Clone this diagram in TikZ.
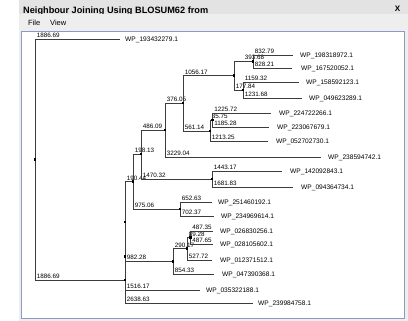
\documentclass[tikz,border=0pt]{standalone}
\usepackage{fontspec}
\setmainfont{Liberation Sans}
\definecolor{janela}{HTML}{EEEEEE}
\definecolor{barra}{HTML}{E3E3E3}
\definecolor{moldura}{HTML}{8A9AC2}
\definecolor{traco}{HTML}{3C3C3C}
\begin{document}
\begin{tikzpicture}[x=1pt, y=-1pt,
  ramo/.style={draw=traco, line width=0.6pt},
  no/.style={fill=black, inner sep=0pt, minimum size=2.6pt},
  compr/.style={anchor=south west, font=\fontsize{6.3}{7}\selectfont, inner sep=0.5pt, xshift=1pt, yshift=0.6pt},
  folha/.style={anchor=west, font=\fontsize{6.6}{7}\selectfont, inner sep=0pt, yshift=-0.8pt}]
  \useasboundingbox (0,0) rectangle (408,321);
  % janela
  \fill[janela] (19,0) rectangle (408,321);
  \fill[barra] (19,0) rectangle (408,14);
  \node[anchor=base west, font=\bfseries\fontsize{9.2}{10}\selectfont, inner sep=0pt] (titulo) at (23,13.4) {Neighbour Joining Using BLOSUM62 from};
  \fill[janela] (19,13.6) rectangle (408,31);
  \node[font=\bfseries\fontsize{8}{9}\selectfont, inner sep=0pt] (fechar) at (397.5,8.5) {X};
  \node[anchor=west, font=\fontsize{7.5}{8}\selectfont, inner sep=0pt] (arquivo) at (28,22.7) {File};
  \node[anchor=west, font=\fontsize{7.5}{8}\selectfont, inner sep=0pt] (ver) at (50,22.7) {View};
  \draw[moldura, fill=white, line width=0.8pt] (21.7,31.7) rectangle (404,318.6);
  % nos internos
  \foreach \n/\x/\y in {root/35/159.5, n1/125/280, n2/125/256.5, n3/125/222, n4/133/181.5,
      n6/141/154, n8/165/130, n10/183/103, n11/234/75.5, n13/253/61.5, n14/243/90,
      n12/210/131, n15/212.5/120, n9/212/179, n7/180/209, n5/173/261.4, n16/187/248.8, n17/190.5/237.5}
    \coordinate (\n) at (\x,\y);
  % folhas
  \foreach \n/\xa/\y/\xb/\t in {f1/120/39/125/WP\_193432279.1, f2/293/55/300/WP\_198318972.1,
      f3/292/68/301/WP\_167520052.1, f4/299/82/306/WP\_158592123.1, f5/302/98/309/WP\_049623289.1,
      f6/271/113/279/WP\_224722266.1, f7/269/127/277/WP\_223067679.1, f8/268/141/276/WP\_052702730.1,
      f9/321/157/328/WP\_238594742.1, f10/282/171/290/WP\_142092843.1, f11/293/187/301/WP\_094364734.1,
      f12/212/202/218/WP\_251460192.1, f13/214/216/221/WP\_234969614.1, f14/213/231/220/WP\_026830256.1,
      f15/213/244/220/WP\_028105602.1, f16/212/260/220/WP\_012371512.1, f17/214/274/222/WP\_047390368.1,
      f18/200/290/206/WP\_035322188.1, f19/253/303/258/WP\_239984758.1}
  { \coordinate (\n) at (\xa,\y);
    \node[folha] (r\n) at (\xb,\y) {\t}; }
  % ramos
  \draw[ramo] (n1) -- (n2) -- (n3);
  \draw[ramo] (n11) |- (n13) node[pos=0.5, compr, xshift=9pt, yshift=0.5pt] {393.68};
  \foreach \p/\c/\w in {root/f1/1886.69, root/n1/1886.69, n1/f19/2638.63, n2/f18/1516.17,
      n3/n4/190.44, n3/n5/982.28, n4/n6/198.13, n4/n7/975.06, n6/n8/486.09, n6/n9/1470.32,
      n8/n10/376.05, n8/f9/3229.04, n10/n11/1056.17, n10/n12/561.14,
      n11/n14/177.84, n13/f2/832.79, n13/f3/828.21, n14/f4/1159.32, n14/f5/1231.68,
      n12/n15/35.75, n12/f8/1213.25, n15/f6/1225.72, n15/f7/1185.28, n9/f10/1443.17,
      n9/f11/1681.83, n7/f12/652.63, n7/f13/702.37, n5/n16/290.17, n5/f17/854.33,
      n16/n17/89.28, n16/f16/527.72, n17/f14/487.35, n17/f15/487.65}
    \draw[ramo] (\p) |- (\c) node[pos=0.5, compr] {\w};
  % pontos
  \foreach \n in {root,n1,n2,n3,n4,n5,n6,n7,n8,n9,n10,n11,n12,n13,n14,n15,n16,n17}
    \node[no] (p\n) at (\n) {};
\end{tikzpicture}
\end{document}
